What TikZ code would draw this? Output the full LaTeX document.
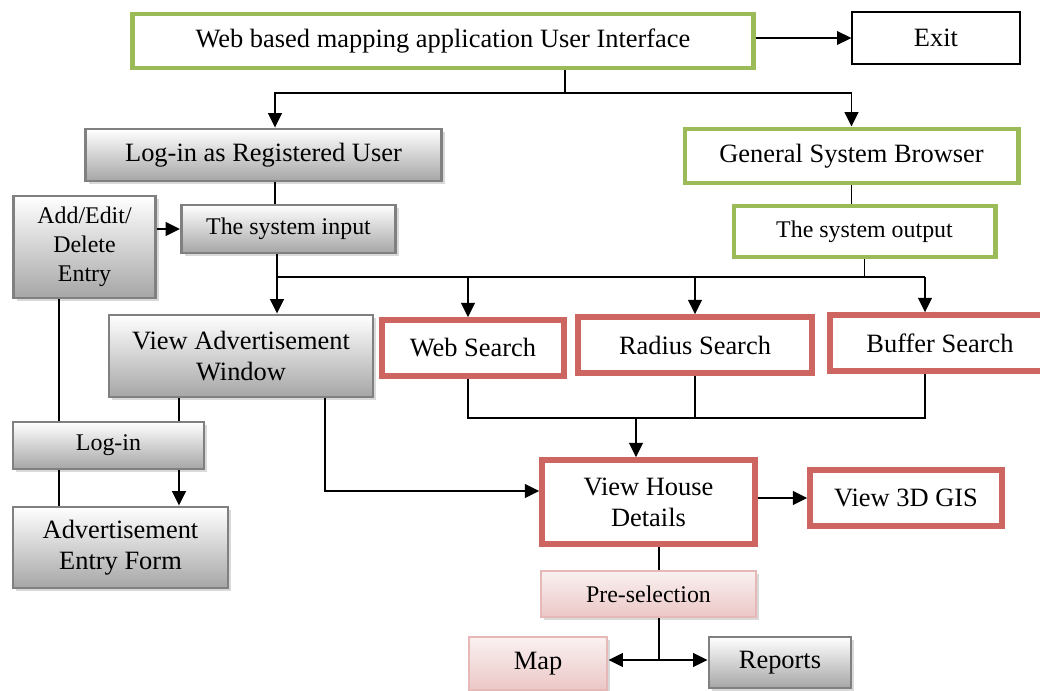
\documentclass[tikz,border=0pt]{standalone}
\usepackage{fontspec}
\setmainfont{Liberation Serif}
\usetikzlibrary{arrows.meta,shadows}

\definecolor{grn}{RGB}{155,187,89}
\definecolor{rd}{RGB}{205,102,97}
\definecolor{pnk}{RGB}{230,185,184}
\definecolor{gr}{RGB}{128,128,128}

\begin{document}
\begin{tikzpicture}[x=0.025cm, y=-0.025cm,
  box/.style={rectangle, inner sep=0pt, align=center, font=\fontsize{18.8}{22}\selectfont},
  klein/.style={font=\fontsize{17}{20.5}\selectfont},
  schatten/.style={drop shadow={opacity=0.3, shadow xshift=0.08cm, shadow yshift=-0.08cm}},
  grnbox/.style={box, draw=grn, line width=3.5pt, fill=white},
  rbox/.style={box, draw=rd, line width=3.8pt, fill=white},
  gbox/.style={box, draw=gr, line width=2pt, top color=white, bottom color=black!35, schatten},
  pbox/.style={box, draw=pnk, line width=2pt, top color=pnk!20, bottom color=pnk!80, schatten},
  ln/.style={line width=1.4pt},
  pf/.style={ln, -{Triangle[length=0.36cm,width=0.34cm]}}]

  \useasboundingbox (0,0) rectangle (1040,691);

  % Kaesten
  \node[grnbox, minimum width=15.5cm, minimum height=1.35cm] (ui) at (443,41) {Web based mapping application User Interface};
  \node[box, draw, line width=0.8pt, minimum width=4.2cm, minimum height=1.3cm] (exit) at (936,38) {Exit};
  \node[gbox, minimum width=8.9cm, minimum height=1.3cm] (reg) at (263.5,155) {Log-in as Registered User};
  \node[grnbox, minimum width=8.325cm, minimum height=1.35cm] (gsb) at (851.5,156) {General System Browser};
  \node[gbox, klein, minimum width=5.35cm, minimum height=1.2cm] (sysin) at (288.5,229) {The system input};
  \node[gbox, klein, minimum width=3.55cm, minimum height=2.55cm] (edit) at (84.5,247) {Add/Edit/\\Delete\\Entry};
  \node[grnbox, klein, minimum width=6.525cm, minimum height=1.275cm] (sysout) at (864.5,231.5) {The system output};
  \node[gbox, minimum width=6.6cm, minimum height=2.05cm] (adv) at (241,356) {View Advertisement\\Window};
  \node[rbox, minimum width=4.55cm, minimum height=1.4cm] (web) at (473,348) {Web Search};
  \node[rbox, minimum width=5.85cm, minimum height=1.4cm] (radius) at (695,345) {Radius Search};
  \node[rbox, minimum width=5.5cm, minimum height=1.4cm] (buffer) at (940,343) {Buffer Search};
  \node[gbox, klein, minimum width=4.775cm, minimum height=1.175cm] (login) at (108.5,445.5) {Log-in};
  \node[gbox, minimum width=5.375cm, minimum height=2.025cm] (form) at (120.5,547.5) {Advertisement\\Entry Form};
  \node[rbox, minimum width=5.325cm, minimum height=2.1cm] (house) at (648.5,502) {View House\\Details};
  \node[rbox, minimum width=4.8cm, minimum height=1.4cm] (gis) at (906,498) {View 3D GIS};
  \node[pbox, klein, minimum width=5.375cm, minimum height=1.15cm] (presel) at (648.5,594) {Pre-selection};
  \node[pbox, minimum width=3.45cm, minimum height=1.325cm] (map) at (538,663.5) {Map};
  \node[gbox, minimum width=3.55cm, minimum height=1.275cm] (rep) at (780,662.5) {Reports};

  % Knickpunkte
  \coordinate (top) at (565,93);
  \coordinate (regx) at (275,0);
  \coordinate (busL) at (277,277);
  \coordinate (busR) at (925,277);
  \coordinate (sumL) at (468,418);
  \coordinate (sumR) at (925,418);
  \coordinate (sum) at (636,418);
  \coordinate (advx) at (325,491);
  \coordinate (sel) at (659,660);
  \coordinate (logx) at (179,0);
  \coordinate (addx) at (59,0);

  % Verbindungen
  \draw[pf] (ui.east |- exit.west) -- (exit.west);
  \draw[ln] (top |- ui.south) -- (top);
  \draw[pf] (top) -| (regx |- reg.north);
  \draw[pf] (top) -| (gsb.north);
  \draw[ln] (regx |- reg.south) -- (regx |- sysin.north);
  \draw[pf] (edit.east |- sysin.west) -- (sysin.west);
  \draw[ln] (gsb.south) -- (gsb.south |- sysout.north);
  \draw[ln] (sysout.south) -- (sysout.south |- busR);
  \draw[ln] (busL) -- (busR);
  \draw[pf] (busL |- sysin.south) -- (busL |- adv.north);
  \draw[pf] (sumL |- busL) -- (sumL |- web.north);
  \draw[pf] (radius.north |- busL) -- (radius.north);
  \draw[pf] (busR) -- (busR |- buffer.north);

  \draw[ln] (sumL |- web.south) -- (sumL) -- (sumR) -- (sumR |- buffer.south);
  \draw[ln] (radius.south) -- (radius.south |- sum);
  \draw[pf] (sum) -- (sum |- house.north);
  \draw[pf] (advx |- adv.south) -- (advx) -- (advx -| house.west);
  \draw[pf] (house.east |- gis.west) -- (gis.west);

  \draw[ln] (sel |- house.south) -- (sel |- presel.north);
  \draw[ln] (sel |- presel.south) -- (sel);
  \draw[pf] (sel) -- (sel -| map.east);
  \draw[pf] (sel) -- (sel -| rep.west);

  \draw[ln] (logx |- adv.south) -- (logx |- login.north);
  \draw[pf] (logx |- login.south) -- (logx |- form.north);
  \draw[ln] (addx |- edit.south) -- (addx |- login.north);
  \draw[ln] (addx |- login.south) -- (addx |- form.north);
\end{tikzpicture}
\end{document}
